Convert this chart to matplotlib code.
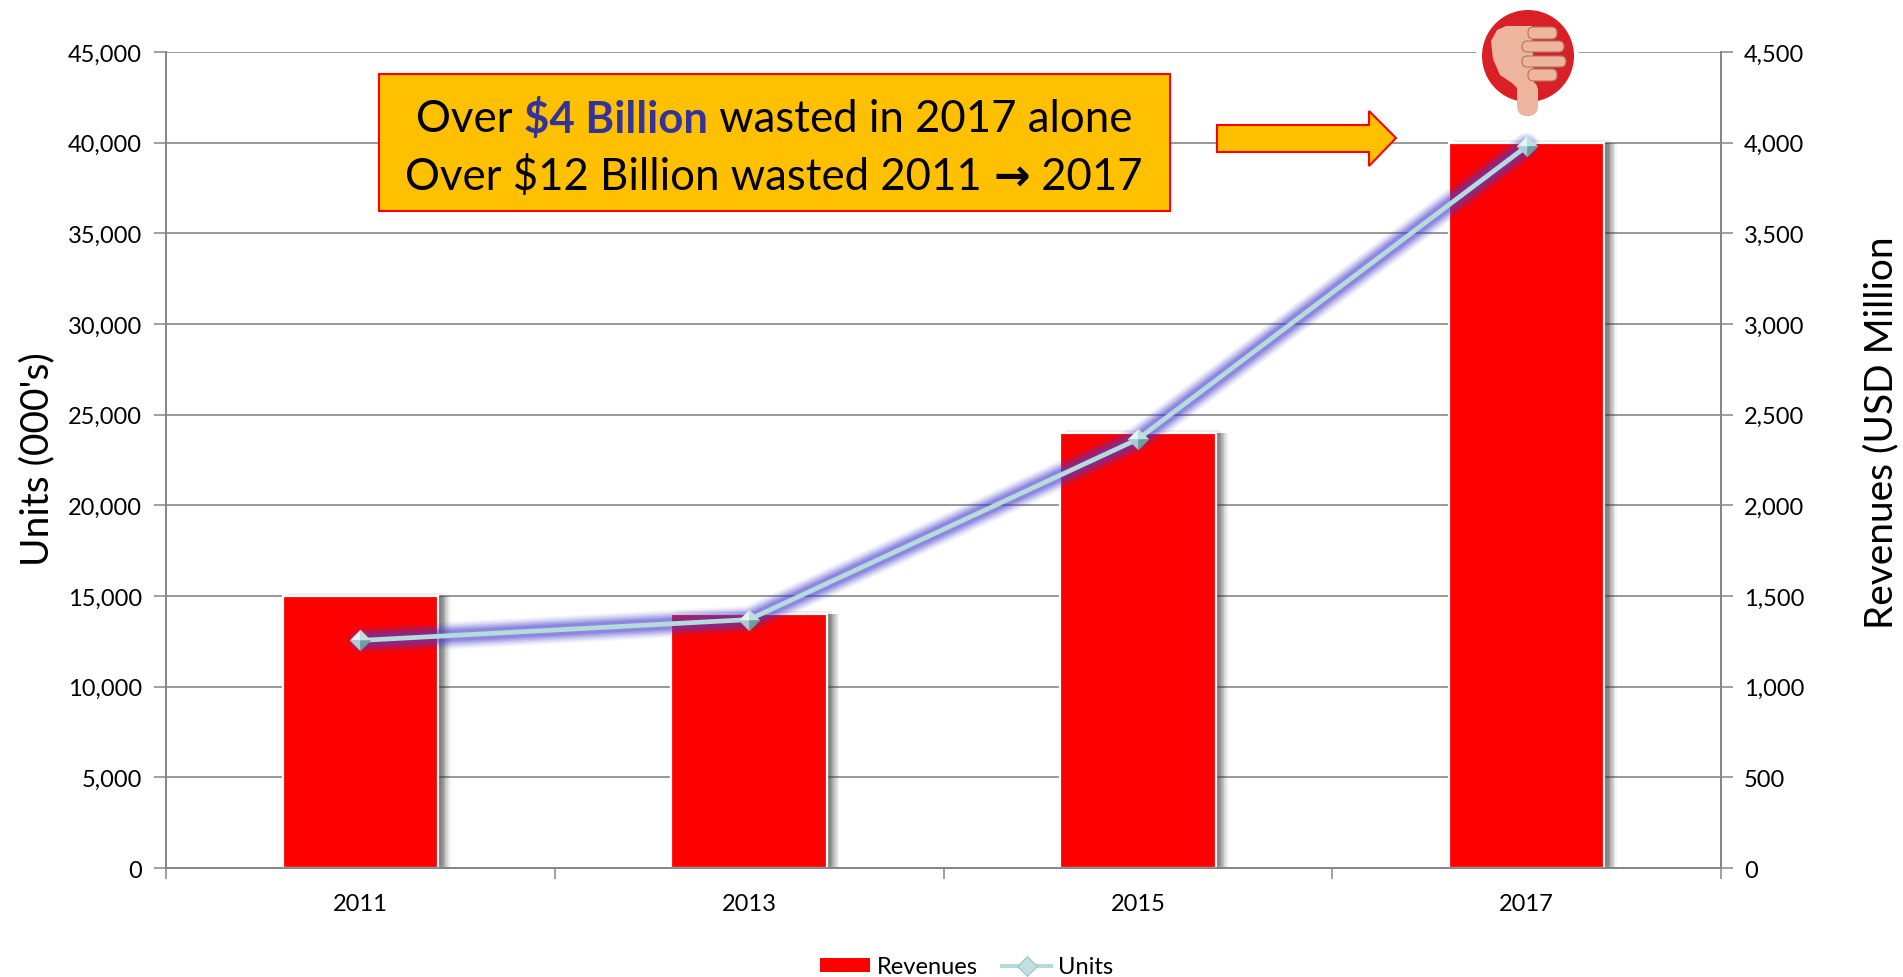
import matplotlib
matplotlib.use("Agg")
import matplotlib.pyplot as plt
import matplotlib.patheffects as pe
from matplotlib.patches import Circle, FancyBboxPatch, Polygon, Rectangle
from matplotlib.path import Path
from matplotlib.lines import Line2D

plt.rcParams['font.family'] = ['Lato', 'DejaVu Sans']

years = ['2011', '2013', '2015', '2017']
revenues = [1500, 1400, 2400, 4000]
units = [12550, 13700, 23650, 39800]
unit_ticks = list(range(0, 45001, 5000))
revenue_ticks = list(range(0, 4501, 500))

GREY = '#868686'
TICK_SIZE = 17
W, H = 1903, 978
x_pos = list(range(len(years)))

fig = plt.figure(figsize=(W / 100, H / 100), dpi=100, facecolor='white')
ax2 = fig.add_axes([166 / W, 1 - 869 / H, 1555 / W, 816 / H])
ax = ax2.twinx()

# bars and gridlines sit on the revenue axis, the units line goes on top
ax2.yaxis.tick_right()
ax2.yaxis.set_label_position('right')
ax.yaxis.tick_left()
ax.yaxis.set_label_position('left')
ax.set_zorder(ax2.get_zorder() + 1)
ax.patch.set_visible(False)

shadow = [pe.SimplePatchShadow(offset=(o, 0), shadow_rgbFace='#303030', alpha=a)
          for o, a in ((9, 0.05), (8, 0.07), (7, 0.09), (6, 0.11), (5, 0.12), (4, 0.12), (3, 0.12), (2, 0.10), (1, 0.10))]
shadow += [pe.SimplePatchShadow(offset=(4, 2), shadow_rgbFace='#303030', alpha=0.08), pe.Normal()]
bars = ax2.bar(x_pos, revenues, width=0.40, color='#FF0000', edgecolor='white', linewidth=1.6,
               zorder=3, label='Revenues')
for b in bars:
    b.set_path_effects(shadow)

# purple glow under the line
glow = [pe.Stroke(linewidth=w, foreground='#4A3FD0', alpha=a)
        for w, a in ((20, 0.05), (18, 0.07), (16, 0.09), (14, 0.12), (12, 0.15), (10, 0.18), (8, 0.22))]
ax.plot(x_pos, units, color='#B5DBDD', lw=3.4, zorder=4, solid_capstyle='round',
        path_effects=glow + [pe.Normal()])

# four shaded facets make up the diamond marker
facets = [
    ([(0, 0), (-1, 0), (0, 1)], '#E4F3F3'),
    ([(0, 0), (0, 1), (1, 0)], '#BFDFE0'),
    ([(0, 0), (-1, 0), (0, -1)], '#A9CDD0'),
    ([(0, 0), (1, 0), (0, -1)], '#6F9CA2'),
]
for verts, col in facets:
    ax.plot(x_pos, units, ls='none', zorder=5, marker=Path(verts + [verts[0]], closed=True),
            ms=15, mfc=col, mec=col, mew=0.3)

ax.set_xlim(-0.5, 3.5)
ax2.set_xlim(-0.5, 3.5)
ax.set_ylim(0, 45000)
ax2.set_ylim(0, 4500)

ax.set_yticks(unit_ticks)
ax.set_yticklabels([f'{v:,}' for v in unit_ticks])
ax2.set_yticks(revenue_ticks)
ax2.set_yticklabels([f'{v:,}' for v in revenue_ticks])
ax2.set_xticks([-0.5, 0.5, 1.5, 2.5, 3.5])
ax2.set_xticklabels([])
ax2.set_xticks(x_pos, minor=True)
ax2.set_xticklabels(years, minor=True)
ax2.tick_params(axis='x', which='major', length=8, width=1.1, color=GREY)
ax2.tick_params(axis='x', which='minor', length=0, pad=18, labelsize=TICK_SIZE)
ax2.tick_params(axis='y', length=8.5, width=1.1, color=GREY, labelsize=TICK_SIZE, pad=8)
ax.tick_params(axis='y', length=8.5, width=1.1, color=GREY, labelsize=TICK_SIZE, pad=9)
ax.tick_params(axis='x', length=0, labelbottom=False)

ax2.grid(axis='y', color=GREY, lw=1.2)
ax2.set_axisbelow(True)

for a in (ax, ax2):
    a.spines['top'].set_visible(False)
    for s in ('left', 'right', 'bottom'):
        a.spines[s].set_color(GREY)
        a.spines[s].set_linewidth(1.3)

ax.set_ylabel("Units (000's)", fontsize=28, va='center')
ax.yaxis.set_label_coords((37 - 166) / 1555, (869 - 459) / 816)
ax2.set_ylabel('Revenues (USD Million', fontsize=28, rotation=90, va='center')
ax2.yaxis.set_label_coords((1881 - 166) / 1555, (869 - 433) / 816)

handles = [
    Rectangle((0, 0), 1, 1, fc='#FF0000', ec='none'),
    Line2D([], [], color='#B5DBDD', lw=3, marker='D', ms=10.5, mfc='#BFDFE0', mec='#8FB9BD', mew=0.6),
]
fig.legend(handles, ['Revenues', 'Units'], ncol=2, loc='center', frameon=False, fontsize=TICK_SIZE,
           bbox_to_anchor=(967 / W, 1 - 968 / H), handlelength=2.1, handleheight=0.55,
           columnspacing=1.0, handletextpad=0.3, borderpad=0)

# overlay in pixel coordinates for the callout, arrow and thumb icon
over = fig.add_axes([0, 0, 1, 1], zorder=10)
over.set_xlim(0, W)
over.set_ylim(H, 0)
over.axis('off')

over.add_patch(Rectangle((379, 75), 791, 137, fc='#FFC000', ec='#FF0000', lw=1.5))
over.add_patch(Polygon([(1217, 126), (1369, 126), (1369, 112), (1396, 139), (1369, 167),
                        (1369, 153), (1217, 153)], closed=True, fc='#FFC000', ec='#FF0000', lw=1.5))

CALLOUT_SIZE = 31.5
renderer = fig.canvas.get_renderer()


def text_row(parts, center_x, y):
    # lay out differently styled pieces side by side, centred on center_x
    pieces = [over.text(0, y, s, fontsize=CALLOUT_SIZE, color=c, fontweight=w, family=f,
                        va='center_baseline', ha='left')
              for s, c, w, f in parts]
    widths = [p.get_window_extent(renderer).width for p in pieces]
    x = center_x - sum(widths) / 2
    for p, wd in zip(pieces, widths):
        p.set_x(x)
        x += wd


LATO = ['Lato', 'DejaVu Sans']
text_row([('Over\u00a0', 'black', 'normal', LATO), ('$4 Billion', '#333399', 'bold', LATO),
          ('\u00a0wasted in 2017 alone', 'black', 'normal', LATO)], 774, 116)
text_row([('Over $12 Billion wasted 2011\u00a0', 'black', 'normal', LATO),
          ('\u2192', 'black', 'bold', ['DejaVu Sans']),
          ('\u00a02017', 'black', 'normal', LATO)], 774, 173)

# thumbs-down icon on a white square that interrupts the top gridline
HAND = '#EDB49E'
LINE = '#B5735C'
over.add_patch(Rectangle((1476, 10), 103, 112, fc='white', ec='none'))
over.add_patch(Circle((1528, 57), 46, fc='#D92027', ec='none'))
over.add_patch(Polygon([(1506, 27), (1532, 27), (1534, 88), (1518, 90), (1512, 84), (1500, 76),
                        (1493, 60), (1491, 42), (1497, 31)], closed=True, fc=HAND, ec='none'))
over.add_patch(FancyBboxPatch((1517, 82), 21, 35, boxstyle='round,pad=0,rounding_size=10', fc=HAND, ec='none'))
for x0, y0, x1, y1 in [(1528, 28, 1557, 40), (1522, 42, 1564, 53), (1522, 57, 1566, 68), (1528, 70, 1557, 82)]:
    over.add_patch(FancyBboxPatch((x0, y0), x1 - x0, y1 - y0, boxstyle='round,pad=0,rounding_size=5.5',
                                  fc=HAND, ec=LINE, lw=0.8))

fig.savefig('out.png', dpi=100)
